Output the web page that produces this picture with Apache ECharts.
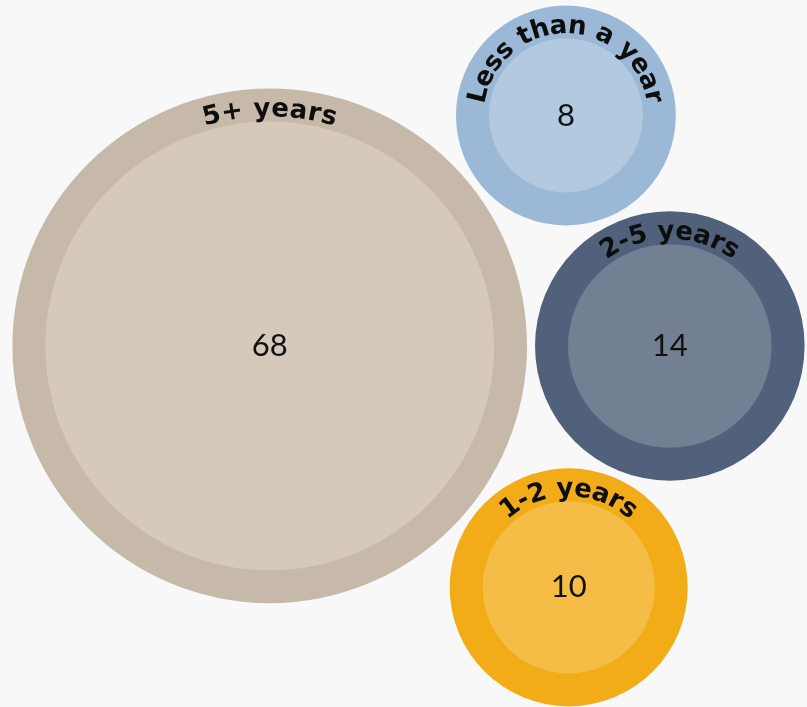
<!DOCTYPE html>
<html><head><meta charset="utf-8">
<script src="https://cdn.jsdelivr.net/npm/echarts@6/dist/echarts.min.js"></script>
<style>html,body{margin:0;padding:0;background:#f8f8f8;}#main{width:807px;height:707px;}</style>
</head><body><div id="main"></div>
<script>
// ---- data ----
const categories = ['5+ years', '2-5 years', '1-2 years', 'Less than a year'];
const values = [68, 14, 10, 8];
const outerColors = ['#c7b9aa', '#51617b', '#f1ac18', '#9bb9d6'];
const innerColors = ['#d5c9bc', '#737f93', '#f5bd45', '#b2c9e0'];

// ---- layout (circle packing, area of inner circle ∝ value) ----
const W = 807, H = 707;
const K = 27.2, RING = 33, GAP = 8;
const nodes = values.map((v, i) => ({ i: i, v: v, ri: K * Math.sqrt(v) }));
nodes.forEach(n => { n.ro = n.ri + RING; });
const sorted = nodes.slice().sort((a, b) => b.v - a.v);
function tangent(P, Q, n, side) {
  const dA = P.ro + n.ro + GAP, dB = Q.ro + n.ro + GAP;
  const dx = Q.x - P.x, dy = Q.y - P.y, d = Math.hypot(dx, dy);
  const a = (dA * dA - dB * dB + d * d) / (2 * d);
  const h = Math.sqrt(Math.max(0, dA * dA - a * a));
  const ux = dx / d, uy = dy / d;
  n.x = P.x + a * ux - side * h * uy;
  n.y = P.y + a * uy + side * h * ux;
}
const A = sorted[0], B = sorted[1];
A.x = 0; A.y = 0; B.x = A.ro + B.ro + GAP; B.y = 0;
if (sorted[2]) tangent(A, B, sorted[2], 1);
if (sorted[3]) tangent(A, B, sorted[3], -1);
let minX = Infinity, maxX = -Infinity, minY = Infinity, maxY = -Infinity;
nodes.forEach(n => {
  minX = Math.min(minX, n.x - n.ro); maxX = Math.max(maxX, n.x + n.ro);
  minY = Math.min(minY, n.y - n.ro); maxY = Math.max(maxY, n.y + n.ro);
});
const offX = W / 2 + 5 - (minX + maxX) / 2;
const offY = H / 2 + 2.5 - (minY + maxY) / 2;

// ---- text measuring ----
const LABEL_FONT_SIZE = 26;
const LETTER_SPACING = 0.8;
const LABEL_FONT = 'bold ' + LABEL_FONT_SIZE + 'px "DejaVu Sans"';
const mctx = document.createElement('canvas').getContext('2d');
mctx.font = LABEL_FONT;

function curvedLabel(text, cx, cy, R) {
  const chars = Array.from(text);
  const widths = chars.map(ch => mctx.measureText(ch).width + LETTER_SPACING);
  const total = widths.reduce((s, w) => s + w, 0);
  const els = [];
  let acc = 0;
  chars.forEach((ch, k) => {
    const s = acc + widths[k] / 2 - total / 2;
    acc += widths[k];
    const th = -Math.PI / 2 + s / R;
    els.push({
      type: 'text',
      x: cx + R * Math.cos(th),
      y: cy + R * Math.sin(th),
      rotation: -(th + Math.PI / 2),
      style: {
        text: ch, fill: '#0d0d0d',
        fontFamily: 'DejaVu Sans', fontWeight: 'bold', fontSize: LABEL_FONT_SIZE,
        align: 'center', verticalAlign: 'middle'
      }
    });
  });
  return els;
}

const chart = echarts.init(document.getElementById('main'), null, { renderer: 'canvas' });
chart.setOption({
  backgroundColor: '#f8f8f8',
  animation: false,
  series: [{
    type: 'custom',
    coordinateSystem: 'none',
    data: values.map((v, i) => ({ name: categories[i], value: [v] })),
    renderItem: function (params, api) {
      const n = nodes[params.dataIndex];
      const cx = n.x + offX, cy = n.y + offY;
      const children = [
        { type: 'circle', shape: { cx: cx, cy: cy, r: n.ro }, style: { fill: outerColors[n.i] } },
        { type: 'circle', shape: { cx: cx, cy: cy, r: n.ri }, style: { fill: innerColors[n.i] } },
        { type: 'text', x: cx, y: cy, style: {
          text: String(api.value(0)), fill: '#111', fontFamily: 'Lato', fontWeight: 'normal', fontSize: 31,
          align: 'center', verticalAlign: 'middle' } }
      ].concat(curvedLabel(categories[n.i], cx, cy, n.ri + 12));
      return { type: 'group', children: children };
    }
  }]
});
</script>
</body></html>
